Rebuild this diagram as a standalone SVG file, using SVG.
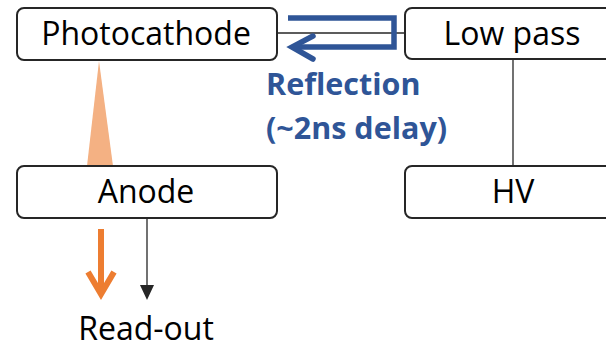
<svg xmlns="http://www.w3.org/2000/svg" width="606" height="349" viewBox="0 0 606 349">
<defs>
<style>
.box{fill:#fff;stroke:#262626;stroke-width:2}
.lbl{font-family:"Open Sans","Liberation Sans",sans-serif;font-size:32px;fill:#000;text-anchor:middle}
.blue{font-family:"Open Sans","Liberation Sans",sans-serif;font-size:30.5px;font-weight:bold;fill:#2F5597}
.thin{stroke:#262626;stroke-width:1.3;fill:none}
</style>
</defs>
<g id="connectors">
<line class="thin" x1="277" y1="33" x2="405" y2="33"/>
<line class="thin" x1="513" y1="59" x2="513" y2="166"/>
<polygon points="99,61 87,166 113,166" fill="#F4B183"/>
<line class="thin" x1="147" y1="218" x2="147" y2="286"/>
<path d="M140,285 L154,285 L147,300 Z" fill="#262626"/>
<g fill="none" stroke="#ED7D31" stroke-width="6" stroke-linecap="butt">
<line x1="101" y1="229" x2="101" y2="294"/>
<polyline points="88,272 101,294 114,272" stroke-linejoin="miter"/>
</g>
<g fill="none" stroke="#2F5597" stroke-width="5.5">
<polyline points="288,18 394,18 394,47 293,47"/>
<polyline points="313,36 292,47 313,59" stroke-linecap="round"/>
</g>
</g>
<g id="photocathode">
<rect class="box" x="17" y="8" width="260" height="52" rx="7"/>
<text class="lbl" x="146" y="45">Photocathode</text>
</g>
<g id="lowpass">
<rect class="box" x="405" y="8" width="215" height="51" rx="7"/>
<text class="lbl" x="512" y="45">Low pass</text>
</g>
<g id="anode">
<rect class="box" x="17" y="166" width="260" height="52" rx="7"/>
<text class="lbl" x="146" y="203">Anode</text>
</g>
<g id="hv">
<rect class="box" x="405" y="166" width="215" height="52" rx="7"/>
<text class="lbl" x="513" y="203">HV</text>
</g>
<g id="readout">
<text class="lbl" x="146" y="340">Read-out</text>
</g>
<g id="reflection">
<text class="blue" x="266" y="95">Reflection</text>
<text class="blue" x="266" y="139">(~2ns delay)</text>
</g>
</svg>
